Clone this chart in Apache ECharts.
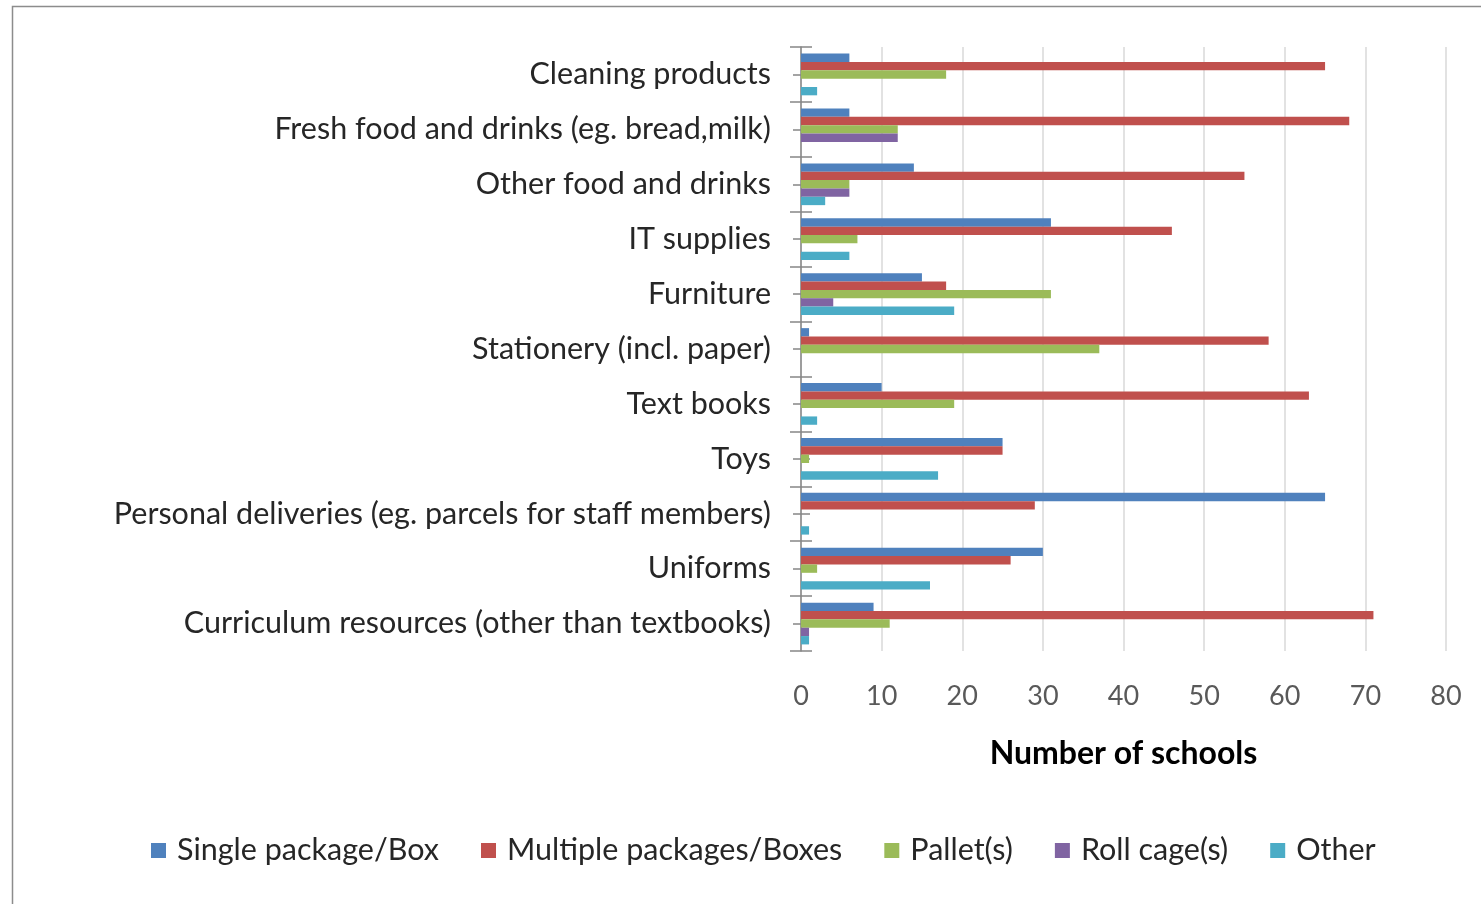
<!DOCTYPE html>
<html>
<head>
<meta charset="utf-8">
<script src="https://cdn.jsdelivr.net/npm/echarts@6/dist/echarts.min.js"></script>
<style>
  html, body { margin: 0; padding: 0; background: #ffffff; }
  #chart { width: 1481px; height: 904px; }
</style>
</head>
<body>
<div id="chart"></div>
<script>
// Delivery item types, listed top to bottom
const categories = [
  'Cleaning products',
  'Fresh food and drinks (eg. bread,milk)',
  'Other food and drinks',
  'IT supplies',
  'Furniture',
  'Stationery (incl. paper)',
  'Text books',
  'Toys',
  'Personal deliveries (eg. parcels for staff members)',
  'Uniforms',
  'Curriculum resources (other than textbooks)'
];

// Number of schools per delivery format
const singlePackage    = [6, 6, 14, 31, 15, 1, 10, 25, 65, 30, 9];
const multiplePackages = [65, 68, 55, 46, 18, 58, 63, 25, 29, 26, 71];
const pallets          = [18, 12, 6, 7, 31, 37, 19, 1, 0, 2, 11];
const rollCages        = [0, 12, 6, 0, 4, 0, 0, 0, 0, 0, 1];
const other            = [2, 0, 3, 6, 19, 0, 2, 17, 1, 16, 1];

const xTicks = [0, 10, 20, 30, 40, 50, 60, 70, 80];
const seriesNames = ['Single package/Box', 'Multiple packages/Boxes', 'Pallet(s)', 'Roll cage(s)', 'Other'];
const seriesColors = ['#4F81BD', '#C0504D', '#9BBB59', '#8064A2', '#4BACC6'];
const seriesData = [singlePackage, multiplePackages, pallets, rollCages, other];

const FONT = 'Lato, "Open Sans", "Liberation Sans", sans-serif';
const chart = echarts.init(document.getElementById('chart'), null, { renderer: 'canvas' });

// extra category axes used only for the tick marks on both sides of the axis line
function tickAxis(alignWithLabel, inside, length) {
  return {
    type: 'category',
    data: categories,
    inverse: true,
    position: 'left',
    axisLine: { show: false },
    axisLabel: { show: false },
    splitLine: { show: false },
    axisTick: {
      show: true,
      alignWithLabel: alignWithLabel,
      inside: inside,
      length: length,
      lineStyle: { color: '#868686', width: 1.5 }
    }
  };
}

chart.setOption({
  animation: false,
  textStyle: { fontFamily: FONT },
  graphic: [{
    type: 'rect',
    shape: { x: 12.5, y: 6.5, width: 1600, height: 1000 },
    style: { fill: 'none', stroke: '#8C8C8C', lineWidth: 1.5 },
    silent: true,
    z: -10
  }],
  grid: { left: 801, right: 35, top: 47, bottom: 253, containLabel: false },
  legend: {
    bottom: 33,
    left: 146,
    itemWidth: 15,
    itemHeight: 15,
    itemGap: 42,
    icon: 'rect',
    textStyle: { fontSize: 30.5, color: '#262626', fontFamily: FONT, padding: [0, 0, 0, 6] },
    data: seriesNames
  },
  xAxis: {
    type: 'value',
    min: 0,
    max: 80,
    interval: 10,
    axisLine: { show: false },
    axisTick: { show: false },
    axisLabel: {
      fontSize: 27,
      color: '#595959',
      margin: 32,
      formatter: v => xTicks.includes(v) ? String(v) : ''
    },
    splitLine: { show: true, lineStyle: { color: '#D9D9D9', width: 1.5 } },
    name: 'Number of schools',
    nameLocation: 'middle',
    nameGap: 87,
    nameTextStyle: { fontSize: 32, fontWeight: 'bold', color: '#000000' }
  },
  yAxis: [
    {
      type: 'category',
      data: categories,
      inverse: true,
      position: 'left',
      axisLine: { show: true, lineStyle: { color: '#868686', width: 1.5 } },
      axisTick: { show: true, alignWithLabel: false, length: 11, lineStyle: { color: '#868686', width: 1.5 } },
      axisLabel: { fontSize: 30.5, color: '#262626', margin: 30 },
      splitLine: { show: false }
    },
    tickAxis(false, true, 11),
    tickAxis(true, false, 8),
    tickAxis(true, true, 9)
  ],
  series: seriesNames.map((name, i) => ({
    name: name,
    type: 'bar',
    yAxisIndex: 0,
    data: seriesData[i],
    itemStyle: { color: seriesColors[i] },
    barGap: '0%',
    barCategoryGap: '24%'
  }))
});
</script>
</body>
</html>
